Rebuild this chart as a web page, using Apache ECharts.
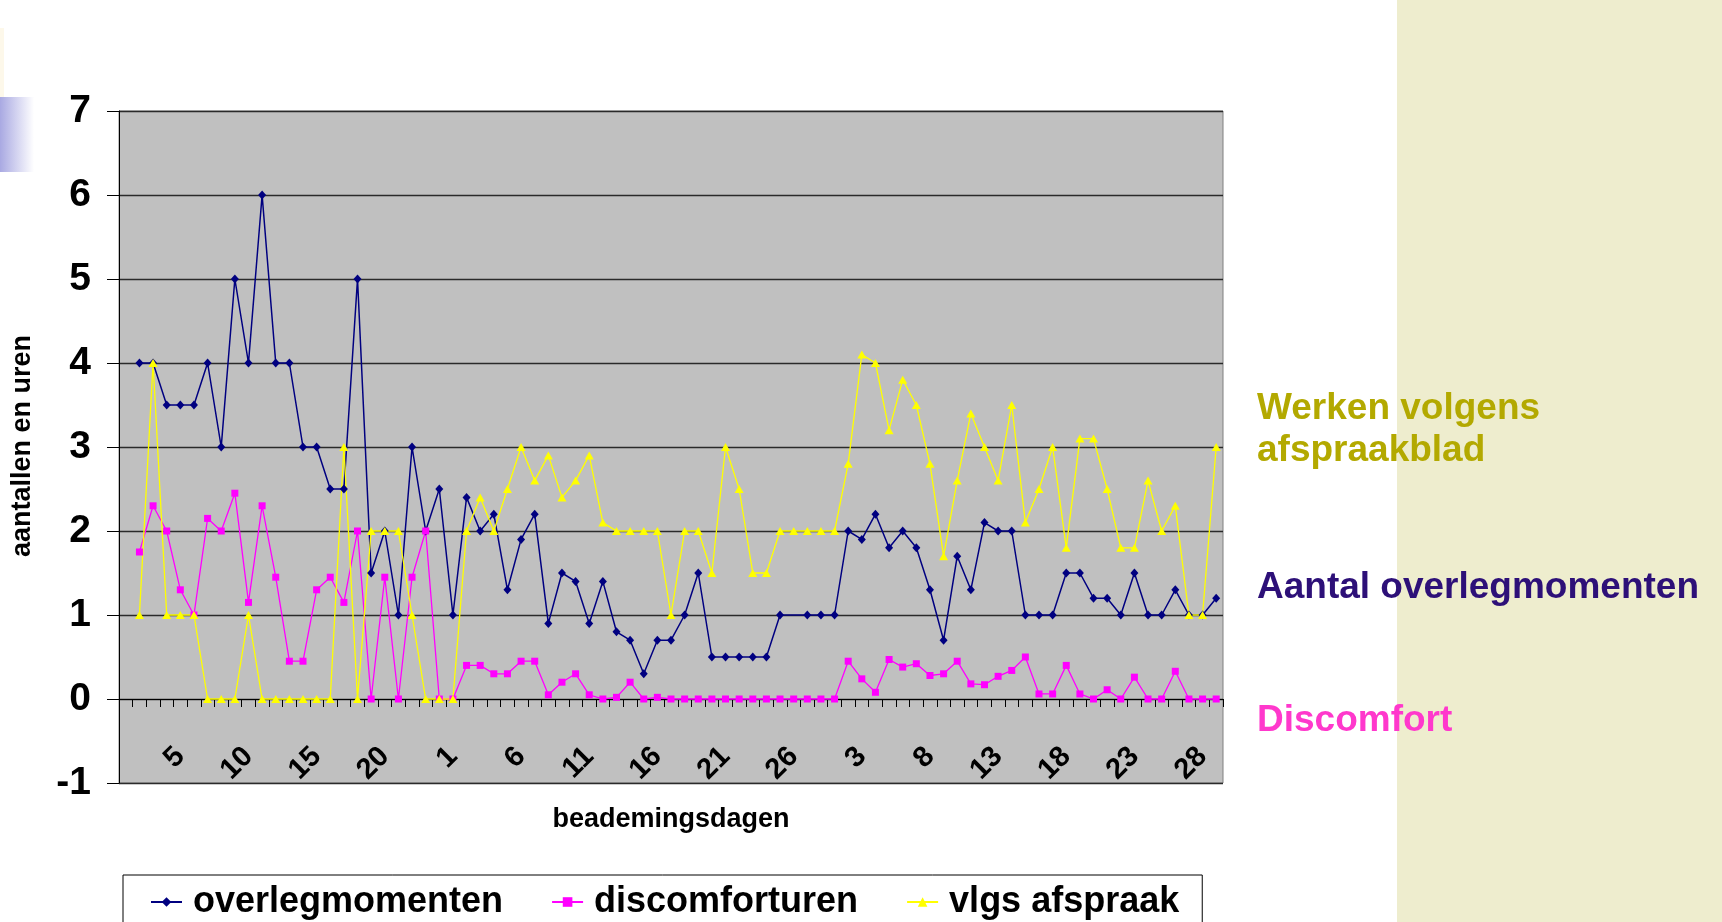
<!DOCTYPE html>
<html>
<head>
<meta charset="utf-8">
<script src="https://cdn.jsdelivr.net/npm/echarts@6/dist/echarts.min.js"></script>
<style>
  html, body { margin: 0; padding: 0; background: #fff; }
  #chart { width: 1722px; height: 922px; }
</style>
</head>
<body>
<div id="chart"></div>
<script>
// beademingsdagen: drie periodes (1-24, 1-28, 1-29)
var dagen = [
  '1','2','3','4','5','6','7','8','9','10','11','12','13','14','15','16','17','18','19','20','21','22','23','24',
  '1','2','3','4','5','6','7','8','9','10','11','12','13','14','15','16','17','18','19','20','21','22','23','24','25','26','27','28',
  '1','2','3','4','5','6','7','8','9','10','11','12','13','14','15','16','17','18','19','20','21','22','23','24','25','26','27','28','29'
];

var overlegmomenten = [
  null, 4, 4, 3.5, 3.5, 3.5, 4, 3, 5, 4, 6, 4, 4, 3, 3, 2.5, 2.5, 5, 1.5, 2, 1, 3, 2, 2.5,
  1, 2.4, 2, 2.2, 1.3, 1.9, 2.2, 0.9, 1.5, 1.4, 0.9, 1.4, 0.8, 0.7, 0.3, 0.7, 0.7, 1, 1.5, 0.5, 0.5, 0.5, 0.5, 0.5, 1, null, 1, 1,
  1, 2, 1.9, 2.2, 1.8, 2, 1.8, 1.3, 0.7, 1.7, 1.3, 2.1, 2, 2, 1, 1, 1, 1.5, 1.5, 1.2, 1.2, 1, 1.5, 1, 1, 1.3, 1, 1, 1.2
];

var discomforturen = [
  null, 1.75, 2.3, 2, 1.3, 1, 2.15, 2, 2.45, 1.15, 2.3, 1.45, 0.45, 0.45, 1.3, 1.45, 1.15, 2, 0, 1.45, 0, 1.45, 2, 0,
  0, 0.4, 0.4, 0.3, 0.3, 0.45, 0.45, 0.05, 0.2, 0.3, 0.05, 0, 0.02, 0.2, 0, 0.02, 0, 0, 0, 0, 0, 0, 0, 0, 0, 0, 0, 0,
  0, 0.45, 0.24, 0.08, 0.47, 0.38, 0.42, 0.28, 0.3, 0.45, 0.18, 0.17, 0.27, 0.34, 0.5, 0.06, 0.06, 0.4, 0.06, 0, 0.11, 0, 0.26, 0, 0, 0.33, 0, 0, 0
];

var vlgsAfspraak = [
  null, 1, 4, 1, 1, 1, 0, 0, 0, 1, 0, 0, 0, 0, 0, 0, 3, 0, 2, 2, 2, 1, 0, 0,
  0, 2, 2.4, 2, 2.5, 3, 2.6, 2.9, 2.4, 2.6, 2.9, 2.1, 2, 2, 2, 2, 1, 2, 2, 1.5, 3, 2.5, 1.5, 1.5, 2, 2, 2, 2,
  2, 2.8, 4.1, 4, 3.2, 3.8, 3.5, 2.8, 1.7, 2.6, 3.4, 3, 2.6, 3.5, 2.1, 2.5, 3, 1.8, 3.1, 3.1, 2.5, 1.8, 1.8, 2.6, 2, 2.3, 1, 1, 3
];

var font = 'Liberation Sans, Arial, sans-serif';

var myChart = echarts.init(document.getElementById('chart'));

var option = {
  animation: false,
  backgroundColor: '#ffffff',
  grid: {
    left: 119, right: 499, top: 111, bottom: 139,
    show: true,
    backgroundColor: '#c0c0c0',
    borderColor: '#808080',
    borderWidth: 1,
    containLabel: false,
    outerBoundsMode: 'none'
  },
  xAxis: {
    type: 'category',
    data: dagen,
    boundaryGap: true,
    axisLine: { onZero: true, lineStyle: { color: '#000', width: 1 } },
    axisTick: { show: true, interval: 0, length: 8, lineStyle: { color: '#000', width: 1 } },
    axisLabel: {
      interval: function (idx) { return idx % 5 === 4; },
      rotate: 45,
      margin: -31,
      fontSize: 29,
      fontWeight: 'bold',
      fontFamily: font,
      color: '#000'
    },
    splitLine: { show: false }
  },
  yAxis: {
    type: 'value',
    min: -1,
    max: 7,
    interval: 1,
    axisLine: { show: true, lineStyle: { color: '#000', width: 1 } },
    axisTick: { show: true, length: 12, lineStyle: { color: '#000' } },
    axisLabel: { margin: 28, fontSize: 39, fontWeight: 'bold', fontFamily: font, color: '#000' },
    splitLine: { show: true, lineStyle: { color: '#2a2a2a', width: 1.3 } }
  },
  legend: {
    left: 123,
    top: 875,
    orient: 'horizontal',
    itemWidth: 31,
    itemHeight: 12,
    itemGap: 48,
    padding: [9, 23, 30, 27],
    borderColor: '#000',
    borderWidth: 1,
    backgroundColor: '#fff',
    textStyle: {
      fontSize: 36,
      fontWeight: 'bold',
      fontFamily: font,
      color: '#000',
      padding: [0, 0, 0, 6]
    },
    data: ['overlegmomenten', 'discomforturen', 'vlgs afspraak']
  },
  graphic: [
    { type: 'rect', z: -10, shape: { x: 1397, y: 0, width: 325, height: 922 }, style: { fill: '#eeedce' } },
    { type: 'rect', z: -10, shape: { x: 0, y: 28, width: 4, height: 69 }, style: { fill: '#fdf8ea' } },
    {
      type: 'rect', z: -10, shape: { x: 0, y: 97, width: 34, height: 75 },
      style: {
        fill: new echarts.graphic.LinearGradient(0, 0, 1, 0, [
          { offset: 0, color: '#a9a9e2' },
          { offset: 1, color: '#ffffff' }
        ])
      }
    },
    {
      type: 'text', x: 23, y: 446, rotation: Math.PI / 2,
      style: { text: 'aantallen en uren', fontSize: 27, fontWeight: 'bold', fontFamily: font, fill: '#000', align: 'center', verticalAlign: 'middle' }
    },
    {
      type: 'text', x: 671, y: 820,
      style: { text: 'beademingsdagen', fontSize: 27, fontWeight: 'bold', fontFamily: font, fill: '#000', align: 'center', verticalAlign: 'middle' }
    },
    // teksten rechts naast de grafiek
    {
      type: 'text', x: 1257, y: 390,
      style: { text: 'Werken volgens', fontSize: 37, fontWeight: 'bold', fontFamily: font, fill: '#b3a900', align: 'left', verticalAlign: 'top' }
    },
    {
      type: 'text', x: 1257, y: 432,
      style: { text: 'afspraakblad', fontSize: 37, fontWeight: 'bold', fontFamily: font, fill: '#b3a900', align: 'left', verticalAlign: 'top' }
    },
    {
      type: 'text', x: 1257, y: 569,
      style: { text: 'Aantal overlegmomenten', fontSize: 37, fontWeight: 'bold', fontFamily: font, fill: '#2d1078', align: 'left', verticalAlign: 'top' }
    },
    {
      type: 'text', x: 1257, y: 702,
      style: { text: 'Discomfort', fontSize: 37, fontWeight: 'bold', fontFamily: font, fill: '#ff38cc', align: 'left', verticalAlign: 'top' }
    }
  ],
  series: [
    {
      name: 'overlegmomenten',
      type: 'line',
      data: overlegmomenten,
      connectNulls: true,
      symbol: 'diamond',
      symbolSize: [8, 9],
      itemStyle: { color: '#000080' },
      lineStyle: { color: '#000080', width: 1.5 }
    },
    {
      name: 'discomforturen',
      type: 'line',
      data: discomforturen,
      symbol: 'rect',
      symbolSize: 7,
      itemStyle: { color: '#ff00ff' },
      lineStyle: { color: '#ff00ff', width: 1.3 }
    },
    {
      name: 'vlgs afspraak',
      type: 'line',
      data: vlgsAfspraak,
      symbol: 'triangle',
      symbolSize: [9, 8],
      itemStyle: { color: '#ffff00' },
      lineStyle: { color: '#ffff00', width: 1.3 }
    }
  ]
};

myChart.setOption(option);
</script>
</body>
</html>
